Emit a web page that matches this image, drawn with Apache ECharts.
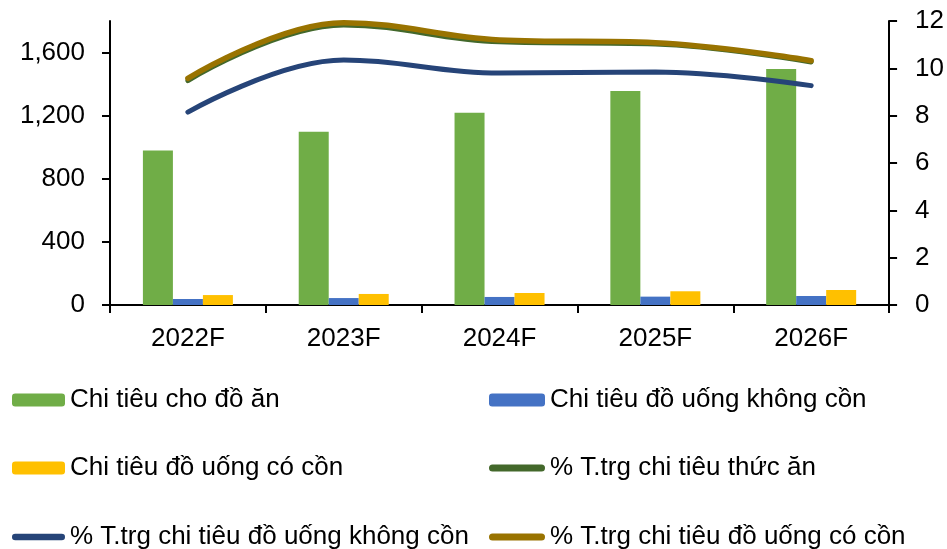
<!DOCTYPE html>
<html>
<head>
<meta charset="utf-8">
<script src="https://cdn.jsdelivr.net/npm/echarts@6/dist/echarts.min.js"></script>
<style>
html,body{margin:0;padding:0;background:#fff;}
#chart{width:947px;height:549px;}
</style>
</head>
<body>
<div id="chart"></div>
<script>
const categories = ['2022F', '2023F', '2024F', '2025F', '2026F'];
const foodSpend = [980, 1098, 1219, 1356, 1496];
const softDrinkSpend = [38, 44, 51, 53, 57];
const alcoholSpend = [63, 70, 76, 87, 95];
const foodGrowth = [9.48, 11.83, 11.12, 11.03, 10.27];
const softDrinkGrowth = [8.15, 10.35, 9.8, 9.85, 9.27];
const alcoholGrowth = [9.58, 11.93, 11.2, 11.08, 10.32];
const leftTicks = [0, 400, 800, 1200, 1600];

const names = [
  'Chi tiêu cho đồ ăn',
  'Chi tiêu đồ uống không cồn',
  'Chi tiêu đồ uống có cồn',
  '% T.trg chi tiêu thức ăn',
  '% T.trg chi tiêu đồ uống không cồn',
  '% T.trg chi tiêu đồ uống có cồn'
];
const FONT = 'Liberation Sans, Arial, sans-serif';
const chart = echarts.init(document.getElementById('chart'));

const legendPos = [
  [12, 400], [489, 400],
  [12, 468], [489, 468],
  [12, 537], [489, 537]
];
const stadium = 'path://M3.5,0 L52.5,0 A3.5,3.5 0 0 1 52.5,7 L3.5,7 A3.5,3.5 0 0 1 3.5,0 Z';
const legends = names.map((n, i) => ({
  show: true,
  left: legendPos[i][0],
  top: legendPos[i][1] - 15,
  padding: 0,
  itemWidth: i % 2 === 1 ? 56 : 53,
  itemHeight: i >= 3 ? 7 : 13,
  itemGap: 0,
  selectedMode: false,
  textStyle: { fontFamily: FONT, fontSize: 26, color: '#000', lineHeight: 30 },
  data: i >= 3 ? [{ name: n, icon: stadium }] : [n]
}));

const axisLine = { show: true, lineStyle: { color: '#000', width: 2 } };

chart.setOption({
  animation: false,
  backgroundColor: '#fff',
  legend: legends,
  grid: { left: 110, right: 56, top: 21, bottom: 244, containLabel: false },
  xAxis: {
    type: 'category',
    data: categories,
    axisLine: axisLine,
    axisTick: { show: true, length: 8, inside: false, lineStyle: { color: '#000', width: 2 } },
    axisLabel: { fontFamily: FONT, fontSize: 26, color: '#000', margin: 21 },
    splitLine: { show: false }
  },
  yAxis: [
    {
      type: 'value', min: 0, max: 1800,
      axisLine: axisLine,
      axisTick: { show: true, length: 8, customValues: leftTicks, lineStyle: { color: '#000', width: 2 } },
      axisLabel: {
        fontFamily: FONT, fontSize: 26, color: '#000', margin: 25,
        customValues: leftTicks,
        formatter: v => v.toLocaleString('en-US')
      },
      splitLine: { show: false }
    },
    {
      type: 'value', min: 0, max: 12, interval: 2, position: 'right',
      axisLine: axisLine,
      axisTick: { show: true, length: 8, lineStyle: { color: '#000', width: 2 } },
      axisLabel: { fontFamily: FONT, fontSize: 26, color: '#000', margin: 26 },
      splitLine: { show: false }
    }
  ],
  series: [
    { name: names[0], type: 'bar', data: foodSpend, barWidth: 30, barGap: '0%', itemStyle: { color: '#70AD47' } },
    { name: names[1], type: 'bar', data: softDrinkSpend, barWidth: 30, barGap: '0%', itemStyle: { color: '#4472C4' } },
    { name: names[2], type: 'bar', data: alcoholSpend, barWidth: 30, barGap: '0%', itemStyle: { color: '#FFC000' } },
    { name: names[3], type: 'line', yAxisIndex: 1, data: foodGrowth, smooth: 0.4, symbol: 'none',
      lineStyle: { color: '#43682B', width: 5, cap: 'round' }, itemStyle: { color: '#43682B' }, z: 3 },
    { name: names[4], type: 'line', yAxisIndex: 1, data: softDrinkGrowth, smooth: 0.4, symbol: 'none',
      lineStyle: { color: '#264478', width: 5, cap: 'round' }, itemStyle: { color: '#264478' }, z: 3 },
    { name: names[5], type: 'line', yAxisIndex: 1, data: alcoholGrowth, smooth: 0.4, symbol: 'none',
      lineStyle: { color: '#997300', width: 5.5, cap: 'round' }, itemStyle: { color: '#997300' }, z: 4 }
  ]
});
</script>
</body>
</html>
